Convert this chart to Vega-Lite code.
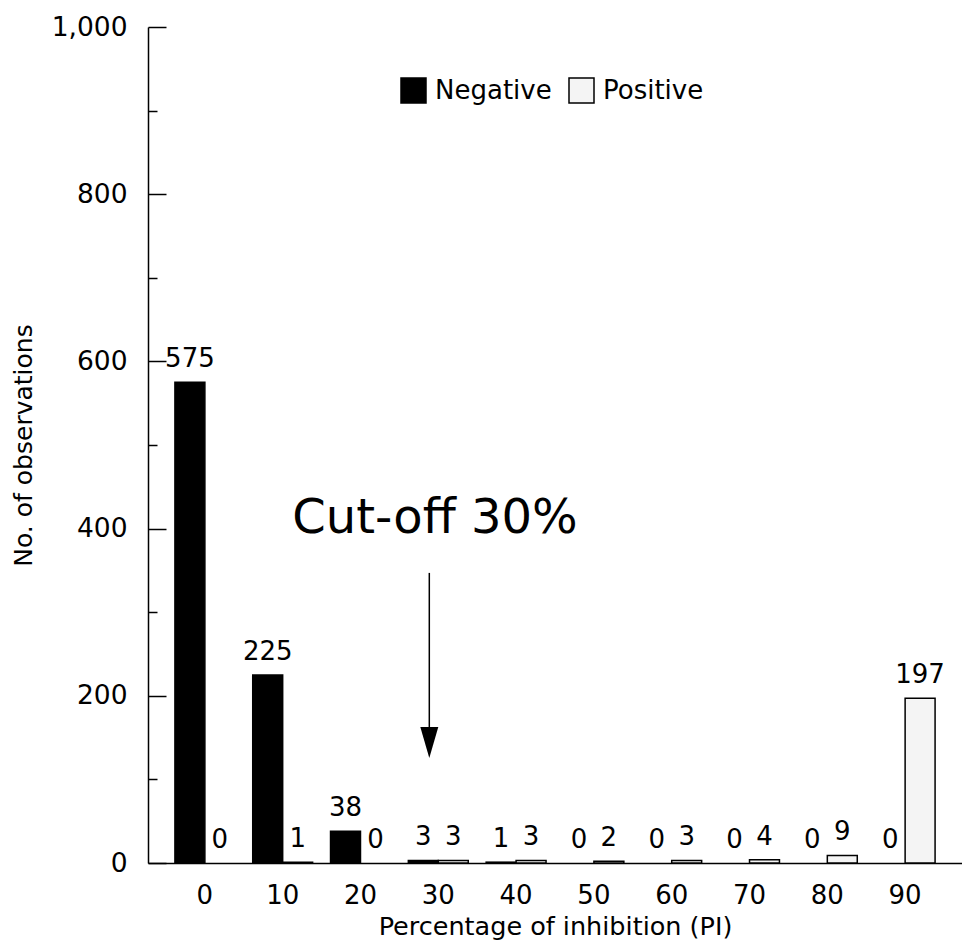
{
  "$schema": "https://vega.github.io/schema/vega-lite/v6.json",
  "autosize": {"type": "none"},
  "width": 814,
  "height": 836,
  "padding": {"left": 148, "top": 27, "right": 0, "bottom": 84},
  "background": "white",
  "config": {"view": {"stroke": null}, "font": "DejaVu Sans"},
  "datasets": {
    "bars": [
      {"PI": "0", "Result": "Negative", "count": 575},
      {"PI": "0", "Result": "Positive", "count": 0},
      {"PI": "10", "Result": "Negative", "count": 225},
      {"PI": "10", "Result": "Positive", "count": 1},
      {"PI": "20", "Result": "Negative", "count": 38},
      {"PI": "20", "Result": "Positive", "count": 0},
      {"PI": "30", "Result": "Negative", "count": 3},
      {"PI": "30", "Result": "Positive", "count": 3},
      {"PI": "40", "Result": "Negative", "count": 1},
      {"PI": "40", "Result": "Positive", "count": 3},
      {"PI": "50", "Result": "Negative", "count": 0},
      {"PI": "50", "Result": "Positive", "count": 2},
      {"PI": "60", "Result": "Negative", "count": 0},
      {"PI": "60", "Result": "Positive", "count": 3},
      {"PI": "70", "Result": "Negative", "count": 0},
      {"PI": "70", "Result": "Positive", "count": 4},
      {"PI": "80", "Result": "Negative", "count": 0},
      {"PI": "80", "Result": "Positive", "count": 9},
      {"PI": "90", "Result": "Negative", "count": 0},
      {"PI": "90", "Result": "Positive", "count": 197}
    ],
    "note": [
      {"PI": "30", "label": "Cut-off 30%", "ytext": 395, "ytop": 347, "ybase": 158, "yhead": 144}
    ]
  },
  "layer": [
    {
      "data": {"name": "bars"},
      "transform": [{"filter": "datum.count > 0"}],
      "mark": {"type": "bar", "stroke": "#000000", "strokeWidth": 1.5},
      "encoding": {
        "x": {
          "field": "PI", "type": "nominal",
          "title": "Percentage of inhibition (PI)",
          "scale": {"domain": ["0","10","20","30","40","50","60","70","80","90"], "paddingInner": 0.23, "paddingOuter": 0.346},
          "axis": {
            "labelAngle": 0, "ticks": false, "labelPadding": 19,
            "labelFontSize": 26, "labelFont": "DejaVu Sans", "labelColor": "#000000",
            "domainColor": "#000000", "domainWidth": 1.5,
            "titleFontSize": 25.5, "titleFont": "DejaVu Sans", "titleFontWeight": "normal", "titleColor": "#000000", "titlePadding": 6
          }
        },
        "xOffset": {"field": "Result", "type": "nominal", "scale": {"domain": ["Negative", "Positive"], "paddingInner": 0, "paddingOuter": 0}},
        "y": {
          "field": "count", "type": "quantitative",
          "scale": {"domain": [0, 1000], "nice": false},
          "axis": {
            "values": [0, 200, 400, 600, 800, 1000], "format": ",d",
            "tickSize": -18, "labelPadding": 39, "tickColor": "#000000", "tickWidth": 1.5,
            "domainColor": "#000000", "domainWidth": 1.5, "grid": false,
            "labelFontSize": 26.5, "labelFont": "DejaVu Sans", "labelColor": "#000000",
            "title": "No. of observations", "titleFontSize": 25, "titleFont": "DejaVu Sans",
            "titleFontWeight": "normal", "titleColor": "#000000", "titlePadding": 15
          }
        },
        "color": {
          "field": "Result", "type": "nominal",
          "scale": {"domain": ["Negative", "Positive"], "range": ["#000000", "#f4f4f4"]},
          "legend": {
            "orient": "none", "legendX": 252, "legendY": 50, "direction": "horizontal", "title": null,
            "symbolType": "square", "symbolSize": 625, "symbolStrokeColor": "#000000", "symbolStrokeWidth": 1.5,
            "labelFontSize": 26, "labelFont": "DejaVu Sans", "labelColor": "#000000", "labelOffset": 8,
            "columnPadding": 14, "padding": 0
          }
        }
      }
    },
    {
      "data": {"name": "bars"},
      "mark": {"type": "text", "baseline": "alphabetic", "dy": -15, "fontSize": 26, "font": "DejaVu Sans", "color": "#000000"},
      "encoding": {
        "x": {"field": "PI", "type": "nominal", "title": "Percentage of inhibition (PI)"},
        "xOffset": {"field": "Result", "type": "nominal"},
        "y": {
          "field": "count", "type": "quantitative",
          "axis": {"orient": "left", "values": [100, 300, 500, 700, 900], "tickSize": -9, "tickColor": "#000000", "tickWidth": 1.5, "labels": false, "domain": false, "grid": false, "title": null}
        },
        "text": {"field": "count", "type": "quantitative"}
      }
    },
    {
      "data": {"name": "note"},
      "mark": {"type": "text", "baseline": "alphabetic", "fontSize": 48, "font": "DejaVu Sans", "color": "#000000"},
      "encoding": {
        "x": {"field": "PI", "type": "nominal", "bandPosition": 0.445, "title": "Percentage of inhibition (PI)"},
        "y": {"field": "ytext", "type": "quantitative", "axis": null},
        "text": {"field": "label"}
      }
    },
    {
      "data": {"name": "note"},
      "mark": {"type": "rule", "strokeWidth": 1.5, "color": "#000000"},
      "encoding": {
        "x": {"field": "PI", "type": "nominal", "bandPosition": 0.35, "title": "Percentage of inhibition (PI)"},
        "y": {"field": "ytop", "type": "quantitative", "axis": null},
        "y2": {"field": "ybase"}
      }
    },
    {
      "data": {"name": "note"},
      "mark": {"type": "point", "shape": "M-0.58,-1L0.58,-1L0,1Z", "size": 961, "filled": true, "color": "#000000", "opacity": 1},
      "encoding": {
        "x": {"field": "PI", "type": "nominal", "bandPosition": 0.35, "title": "Percentage of inhibition (PI)"},
        "y": {"field": "yhead", "type": "quantitative", "axis": null}
      }
    }
  ],
  "resolve": {"axis": {"y": "independent"}}
}
